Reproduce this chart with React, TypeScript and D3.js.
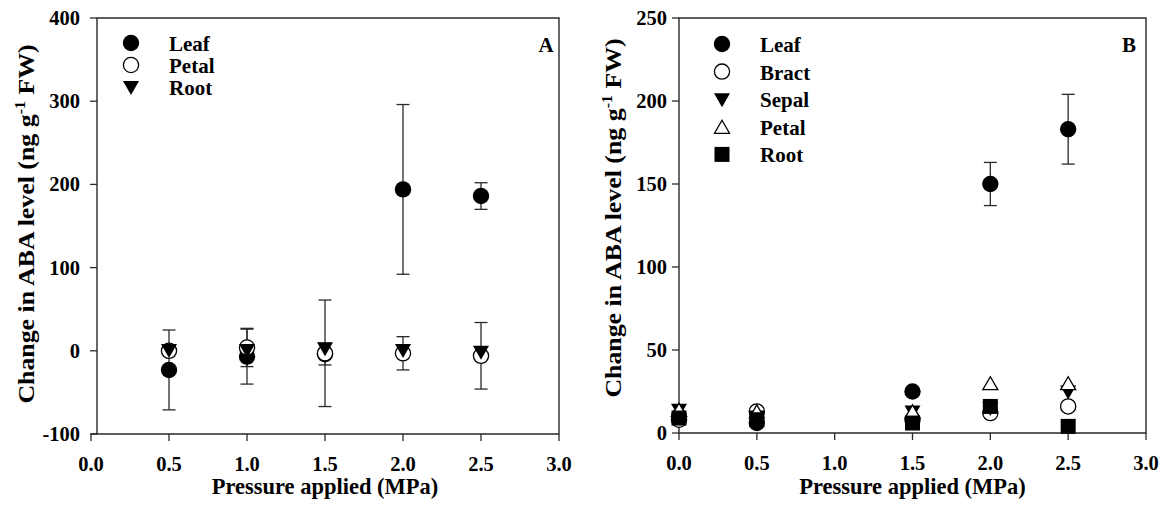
import React from 'react';
import * as d3 from 'd3';

// ---------- DATA ----------
const xTicks = [0.0, 0.5, 1.0, 1.5, 2.0, 2.5, 3.0];
const yTicksA = [-100, 0, 100, 200, 300, 400];
const yTicksB = [0, 50, 100, 150, 200, 250];

const pressureA = [0.5, 1.0, 1.5, 2.0, 2.5];
const leafA = [-23, -7, -4, 194, 186];
const leafAErr = [48, 33, 13, 102, 16];
const petalA = [0, 4, -3, -3, -6];
const petalAErr = [0, 23, 64, 20, 40];
const rootA = [1, 1, 3, 1, -1];
const rootAErr = [0, 0, 0, 0, 0];

const pressureB = [0.0, 0.5, 1.5, 2.0, 2.5];
const leafB = [10, 6, 25, 150, 183];
const leafBErr = [0, 0, 0, 13, 21];
const bractB = [8, 13, 8, 12, 16];
const sepalB = [14, 10, 13, 15, 25];
const petalB = [14, 13, 13, 30, 30];
const rootB = [9, 8, 6, 16, 4];

const seriesNamesA = ['Leaf', 'Petal', 'Root'];
const seriesNamesB = ['Leaf', 'Bract', 'Sepal', 'Petal', 'Root'];

type Shape = 'circleF' | 'circleO' | 'triDownF' | 'triUpO' | 'squareF';

const FONT = '"Liberation Serif", "Times New Roman", serif';
const AX = '#2a2a2a';

function Marker({ shape, x, y }: { shape: Shape; x: number; y: number }) {
  const r = 8.2;
  switch (shape) {
    case 'circleF':
      return <circle cx={x} cy={y} r={r} fill="#000" />;
    case 'circleO':
      return <circle cx={x} cy={y} r={r - 0.6} fill="#fff" stroke="#000" strokeWidth={1.3} />;
    case 'triDownF': {
      const w = 8, h = 14;
      return <path d={`M${x - w},${y - h / 2 + 1}L${x + w},${y - h / 2 + 1}L${x},${y + h / 2 + 1}Z`} fill="#000" />;
    }
    case 'triUpO': {
      const w = 7.5, h = 13;
      return <path d={`M${x - w},${y + h / 2}L${x + w},${y + h / 2}L${x},${y - h / 2}Z`} fill="#fff" stroke="#000" strokeWidth={1.3} />;
    }
    case 'squareF':
      return <rect x={x - 7.5} y={y - 7.5} width={15} height={15} fill="#000" />;
  }
  return null;
}

interface Series { name: string; shape: Shape; vals: number[]; err: number[] }

function Panel(props: {
  left: number; x0: number; right: number; top: number; bottom: number;
  yDomain: [number, number]; yTicks: number[]; xs: number[]; series: Series[];
  legendX: number; legendTextX: number; legendY0: number; legendDy: number;
  letter: string; letterX: number; yTitleX: number; yTitleY: number; yLabelEnd: number;
}) {
  const { left, x0, right, top, bottom, yDomain, yTicks, xs, series } = props;
  const x = d3.scaleLinear().domain([0, 3]).range([x0, right]);
  const y = d3.scaleLinear().domain(yDomain).range([bottom, top]);
  const cap = 6.5;
  return (
    <g>
      {/* frame */}
      <path d={`M${x0},${bottom}H${right}V${top}H${left}V${bottom}`} fill="none" stroke={AX} strokeWidth={1.4} />
      {/* x ticks */}
      {xTicks.map(t => (
        <g key={'xt' + t}>
          <line x1={x(t)} x2={x(t)} y1={bottom} y2={bottom + 7} stroke={AX} strokeWidth={1.3} />
          <text x={x(t)} y={bottom + 37} textAnchor="middle" fontFamily={FONT} fontWeight="bold" fontSize={20.5}>{t.toFixed(1)}</text>
        </g>
      ))}
      {/* y ticks */}
      {yTicks.map(t => (
        <g key={'yt' + t}>
          <line x1={left - 7} x2={left} y1={y(t)} y2={y(t)} stroke={AX} strokeWidth={1.3} />
          <text x={props.yLabelEnd} y={y(t) + 7} textAnchor="end" fontFamily={FONT} fontWeight="bold" fontSize={20.5}>{t}</text>
        </g>
      ))}
      {/* error bars */}
      {series.map(s => s.vals.map((v, i) => s.err[i] > 0 ? (
        <g key={s.name + 'e' + i} stroke={AX} strokeWidth={1.3}>
          <line x1={x(xs[i])} x2={x(xs[i])} y1={y(v - s.err[i])} y2={y(v + s.err[i])} />
          <line x1={x(xs[i]) - cap} x2={x(xs[i]) + cap} y1={y(v + s.err[i])} y2={y(v + s.err[i])} />
          <line x1={x(xs[i]) - cap} x2={x(xs[i]) + cap} y1={y(v - s.err[i])} y2={y(v - s.err[i])} />
        </g>
      ) : null))}
      {/* markers */}
      {series.map(s => s.vals.map((v, i) => (
        <Marker key={s.name + 'm' + i} shape={s.shape} x={x(xs[i])} y={y(v)} />
      )))}
      {/* legend */}
      {series.map((s, i) => (
        <g key={'lg' + s.name}>
          <Marker shape={s.shape} x={props.legendX} y={props.legendY0 + i * props.legendDy} />
          <text x={props.legendTextX} y={props.legendY0 + i * props.legendDy + 8} fontFamily={FONT} fontWeight="bold" fontSize={21}>{s.name}</text>
        </g>
      ))}
      <text x={props.letterX} y={52} textAnchor="middle" fontFamily={FONT} fontWeight="bold" fontSize={21}>{props.letter}</text>
      {/* axis titles */}
      <text x={(x0 + right) / 2} y={494} textAnchor="middle" fontFamily={FONT} fontWeight="bold" fontSize={22.5}>Pressure applied (MPa)</text>
      <text transform={`translate(${props.yTitleX},${props.yTitleY}) rotate(-90) scale(1.1,1)`} textAnchor="middle" fontFamily={FONT} fontWeight="bold" fontSize={23.5}>
        Change in ABA level (ng g<tspan dy={-9} fontSize={14.5}>-1</tspan><tspan dy={9}> FW)</tspan>
      </text>
    </g>
  );
}

export default function App() {
  const shapesA: Shape[] = ['circleF', 'circleO', 'triDownF'];
  const valsA = [leafA, petalA, rootA];
  const errA = [leafAErr, petalAErr, rootAErr];
  const seriesA: Series[] = seriesNamesA.map((n, i) => ({ name: n, shape: shapesA[i], vals: valsA[i], err: errA[i] }));

  const shapesB: Shape[] = ['circleF', 'circleO', 'triDownF', 'triUpO', 'squareF'];
  const valsB = [leafB, bractB, sepalB, petalB, rootB];
  const zeros = pressureB.map(() => 0);
  const errB = [leafBErr, zeros, zeros, zeros, zeros];
  const seriesB: Series[] = seriesNamesB.map((n, i) => ({ name: n, shape: shapesB[i], vals: valsB[i], err: errB[i] }));

  return (
    <svg width={1162} height={505} style={{ position: 'absolute', left: 0, top: 0, background: '#fff' }}>
      <rect width={1162} height={505} fill="#fff" />
      <Panel left={97} x0={91} right={559} top={18} bottom={434} yDomain={[-100, 400]} yTicks={yTicksA}
        xs={pressureA} series={seriesA} legendX={131} legendTextX={169} legendY0={43} legendDy={22}
        letter="A" letterX={546} yTitleX={34} yTitleY={224} yLabelEnd={80} />
      <Panel left={679} x0={679} right={1146} top={18} bottom={433} yDomain={[0, 250]} yTicks={yTicksB}
        xs={pressureB} series={seriesB} legendX={722} legendTextX={760} legendY0={44} legendDy={27.6}
        letter="B" letterX={1129} yTitleX={621} yTitleY={218} yLabelEnd={667} />
    </svg>
  );
}
